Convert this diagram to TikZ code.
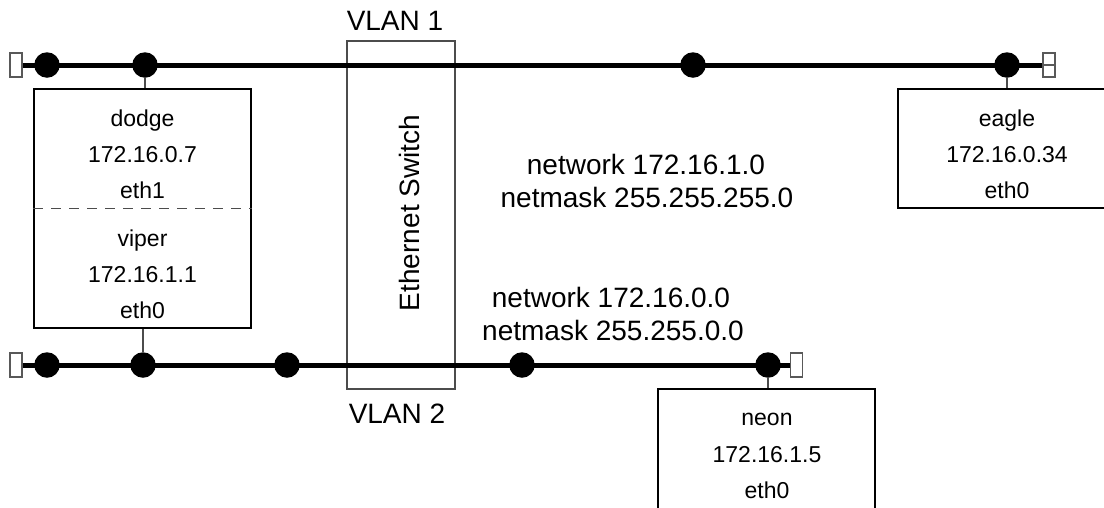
\documentclass[tikz,border=0pt]{standalone}
\usepackage{fontspec}
\setmainfont{Liberation Sans}
\begin{document}
\begin{tikzpicture}[x=1pt,y=-1pt,
  bus/.style={line width=5pt},
  dot/.style={circle,fill=black,inner sep=0pt,minimum size=25.5pt},
  term/.style={draw=black!65,line width=1.2pt,fill=white,minimum width=12pt,minimum height=24pt,inner sep=0pt},
  host/.style={draw=black,line width=2pt,minimum width=217pt,inner sep=0pt},
  stem/.style={draw=black!70,line width=1.8pt},
  small/.style={font=\fontsize{23}{28}\selectfont,anchor=base,inner sep=0pt},
  big/.style={font=\fontsize{28}{34}\selectfont,anchor=base,inner sep=0pt}]
\useasboundingbox (0,0) rectangle (1104,507);

% host boxes
\node[host,minimum height=239pt] (dodge) at (142.5,208.5) {};
\node[host,minimum width=218pt,minimum height=119pt] (eagle) at (1007,148.5) {};
\node[host,minimum height=130pt] (neon) at (766.5,454) {};
\draw[dashed,dash pattern=on 10pt off 8pt,black!70,line width=1.2pt] (dodge.west) -- (dodge.east);

% switch
\node[draw=black!70,line width=1.3pt,minimum width=108pt,minimum height=348pt,inner sep=0pt] (sw) at (401,215) {};
\node[big,anchor=center,rotate=90] (swlabel) at (409,213) {Ethernet Switch};
\node[big] (vlan1) at (395,30) {VLAN 1};
\node[big] (vlan2) at (397,423) {VLAN 2};

% terminators
\node[term] (t1l) at (16,65) {};
\node[term] (t1r) at (1049,65) {};
\node[term] (t2l) at (16,365) {};
\node[term] (t2r) at (796.5,365) {};
\draw[black!65,line width=1.2pt] (t1r.west) -- (t1r.east);

% buses
\draw[bus] (t1l.east) -- (t1r.west);
\draw[bus] (t2l.east) -- (t2r.west);

% taps VLAN 1
\node[dot] (a1) at (47,65) {};
\node[dot] (a2) at (145,65) {};
\node[dot] (a3) at (693,65) {};
\node[dot] (a4) at (1007,65) {};
% taps VLAN 2
\node[dot] (b1) at (47,365) {};
\node[dot] (b2) at (143,365) {};
\node[dot] (b3) at (287,365) {};
\node[dot] (b4) at (522,365) {};
\node[dot] (b5) at (768,365) {};

% stems
\draw[stem] (a2) -- (a2 |- dodge.north);
\draw[stem] (a4) -- (a4 |- eagle.north);
\draw[stem] (b2) -- (b2 |- dodge.south);
\draw[stem] (b5) -- (b5 |- neon.north);

% host texts
\node[small] (d1) at (142.5,126) {dodge};
\node[small] (d2) at (142.5,162) {172.16.0.7};
\node[small] (d3) at (142.5,198) {eth1};
\node[small] (v1) at (142.5,246) {viper};
\node[small] (v2) at (142.5,282) {172.16.1.1};
\node[small] (v3) at (142.5,318) {eth0};
\node[small] (e1) at (1007,126) {eagle};
\node[small] (e2) at (1007,162) {172.16.0.34};
\node[small] (e3) at (1007,198) {eth0};
\node[small] (n1) at (767,425) {neon};
\node[small] (n2) at (767,462) {172.16.1.5};
\node[small] (n3) at (767,498) {eth0};

% network texts
\node[big] (net1a) at (646,174) {network 172.16.1.0};
\node[big] (net1b) at (647,207) {netmask 255.255.255.0};
\node[big] (net2a) at (611,307) {network 172.16.0.0};
\node[big] (net2b) at (613,340) {netmask 255.255.0.0};
\end{tikzpicture}
\end{document}
